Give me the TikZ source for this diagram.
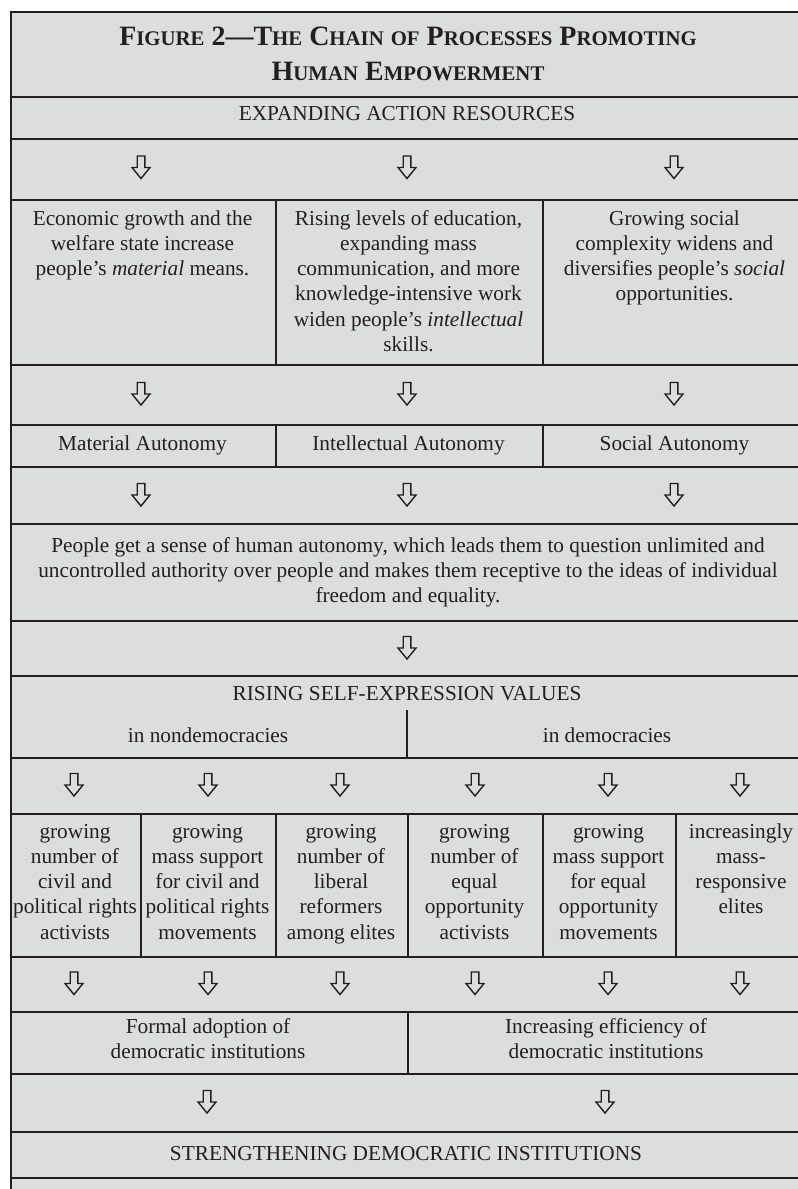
\documentclass[tikz,border=0pt]{standalone}
\usepackage{fontspec}
\setmainfont{Liberation Serif}
\definecolor{cellgray}{RGB}{220,221,223}
\definecolor{ink}{RGB}{35,31,32}
\newcommand\smc[1]{{\fontsize{20.8}{35}\selectfont #1}}
\begin{document}
\begin{tikzpicture}[x=1pt,y=-1pt,
  cell/.style={draw=ink, line width=2pt, fill=cellgray, rectangle, inner sep=0pt, anchor=north west},
  txt/.style={text=ink, font=\fontsize{21.3}{25.3}\selectfont, align=center, inner sep=0pt, anchor=base},
  titletxt/.style={text=ink, font=\bfseries\fontsize{28}{35}\selectfont, align=center, inner sep=0pt, anchor=base},
  darr/.style={rectangle, minimum width=24pt, minimum height=30pt, inner sep=0pt, anchor=center,
    path picture={\draw[ink, line width=1.4pt, line join=miter, shift={(path picture bounding box.center)}]
      (-3.8,-11.5) -- (3.8,-11.5) -- (3.8,0) -- (9,0) -- (0,11) -- (-9,0) -- (-3.8,0) -- cycle;}}]
\useasboundingbox (0,0) rectangle (798,1189);
\clip (0,0) rectangle (798,1189);
\fill[cellgray] (10,11) rectangle (830,1210);
% rows
\node[cell, minimum width=797, minimum height=85] (rtitle) at (10,11) {};
\node[cell, minimum width=797, minimum height=42] (rexp) at (10,96) {};
\node[cell, minimum width=797, minimum height=61] (ra1) at (10,138) {};
\node[cell, minimum width=265, minimum height=165] (t1) at (10,199) {};
\node[cell, minimum width=267, minimum height=165] (t2) at (275,199) {};
\node[cell, minimum width=265, minimum height=165] (t3) at (542,199) {};
\node[cell, minimum width=797, minimum height=60] (ra2) at (10,364) {};
\node[cell, minimum width=265, minimum height=42] (u1) at (10,424) {};
\node[cell, minimum width=267, minimum height=42] (u2) at (275,424) {};
\node[cell, minimum width=265, minimum height=42] (u3) at (542,424) {};
\node[cell, minimum width=797, minimum height=57] (ra3) at (10,466) {};
\node[cell, minimum width=797, minimum height=97] (rpara) at (10,523) {};
\node[cell, minimum width=797, minimum height=55] (ra4) at (10,620) {};
\node[cell, minimum width=797, minimum height=82] (rrise) at (10,675) {};
\node[cell, minimum width=797, minimum height=56] (ra5) at (10,757) {};
\node[cell, minimum width=130, minimum height=143] (g1) at (10,813) {};
\node[cell, minimum width=135, minimum height=143] (g2) at (140,813) {};
\node[cell, minimum width=132, minimum height=143] (g3) at (275,813) {};
\node[cell, minimum width=135, minimum height=143] (g4) at (407,813) {};
\node[cell, minimum width=133, minimum height=143] (g5) at (542,813) {};
\node[cell, minimum width=132, minimum height=143] (g6) at (675,813) {};
\node[cell, minimum width=797, minimum height=55] (ra6) at (10,956) {};
\node[cell, minimum width=397, minimum height=62] (f1) at (10,1011) {};
\node[cell, minimum width=400, minimum height=62] (f2) at (407,1011) {};
\node[cell, minimum width=797, minimum height=58] (ra7) at (10,1073) {};
\node[cell, minimum width=797, minimum height=46] (rstr) at (10,1131) {};
\node[cell, minimum width=797, minimum height=40] (rend) at (10,1177) {};
% split in rising row
\coordinate (splittop) at (407,710);
\coordinate (splitbot) at (407,757);
\draw[draw=ink, line width=2pt] (splittop) -- (splitbot);
% texts (anchor = baseline of last line)
\node[titletxt] (title) at (408,80) {F\smc{IGURE} 2—T\smc{HE} C\smc{HAIN} \smc{OF} P\smc{ROCESSES} P\smc{ROMOTING}\\H\smc{UMAN} E\smc{MPOWERMENT}};
\node[txt] (exp) at (407,120) {EXPANDING ACTION RESOURCES};
\node[txt] (tx1) at (142.5,275.6) {Economic growth and the\\welfare state increase\\people’s \textit{material} means.};
\node[txt] (tx2) at (408.5,351.5) {Rising levels of education,\\expanding mass\\communication, and more\\knowledge-intensive work\\widen people’s \textit{intellectual}\\skills.};
\node[txt] (tx3) at (674.5,300.9) {Growing social\\complexity widens and\\diversifies people’s \textit{social}\\opportunities.};
\node[txt] (ux1) at (142.5,450) {Material Autonomy};
\node[txt] (ux2) at (408.5,450) {Intellectual Autonomy};
\node[txt] (ux3) at (674.5,450) {Social Autonomy};
\node[txt] (para) at (408,602.6) {People get a sense of human autonomy, which leads them to question unlimited and\\uncontrolled authority over people and makes them receptive to the ideas of individual\\freedom and equality.};
\node[txt] (rise) at (407,700) {RISING SELF-EXPRESSION VALUES};
\node[txt] (nondem) at (208,742) {in nondemocracies};
\node[txt] (dem) at (607,742) {in democracies};
\node[txt] (gx1) at (75,939.2) {growing\\number of\\civil and\\political rights\\activists};
\node[txt] (gx2) at (207.5,939.2) {growing\\mass support\\for civil and\\political rights\\movements};
\node[txt] (gx3) at (341,939.2) {growing\\number of\\liberal\\reformers\\among elites};
\node[txt] (gx4) at (474.5,939.2) {growing\\number of\\equal\\opportunity\\activists};
\node[txt] (gx5) at (608.5,939.2) {growing\\mass support\\for equal\\opportunity\\movements};
\node[txt] (gx6) at (741,913.9) {increasingly\\mass-\\responsive\\elites};
\node[txt] (fx1) at (208,1058.3) {Formal adoption of\\democratic institutions};
\node[txt] (fx2) at (606,1058.3) {Increasing efficiency of\\democratic institutions};
\node[txt] (str) at (406,1160) {STRENGTHENING DEMOCRATIC INSTITUTIONS};
% arrows
\foreach \x [count=\i] in {141,407,674} {
  \node[darr] (a1-\i) at (\x,167.5) {};
  \node[darr] (a2-\i) at (\x,394) {};
  \node[darr] (a3-\i) at (\x,495) {};
}
\node[darr] (a4) at (407,648) {};
\foreach \x [count=\i] in {74,208,340,475,608,740} {
  \node[darr] (a5-\i) at (\x,785) {};
  \node[darr] (a6-\i) at (\x,983.5) {};
}
\node[darr] (a7-1) at (207,1102) {};
\node[darr] (a7-2) at (605,1102) {};
\end{tikzpicture}
\end{document}
